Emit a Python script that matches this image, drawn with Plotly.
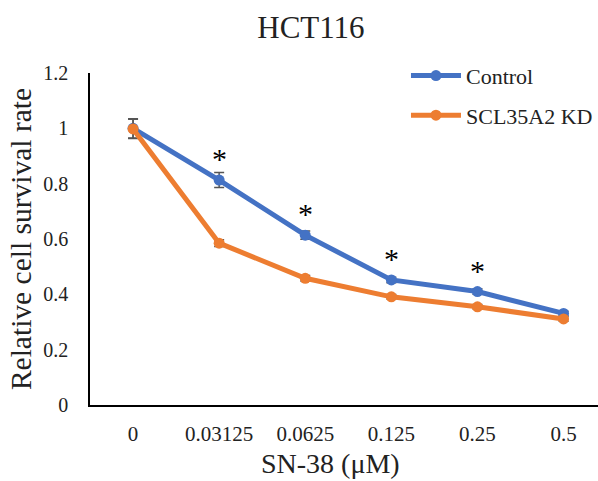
import plotly.graph_objects as go

# SN-38 concentrations (µM) used as categories
doses = ["0", "0.03125", "0.0625", "0.125", "0.25", "0.5"]

# Relative cell survival (mean) and error (SD)
control_mean = [1.00, 0.813, 0.614, 0.452, 0.410, 0.331]
control_err = [0.035, 0.027, 0.015, 0.010, 0.010, 0.008]
kd_mean = [0.998, 0.585, 0.458, 0.391, 0.355, 0.311]
kd_err = [0.035, 0.012, 0.010, 0.008, 0.008, 0.008]

# Doses marked as significant (asterisk over the Control point)
sig_doses = ["0.03125", "0.0625", "0.125", "0.25"]

FONT = "Liberation Serif"
BLUE = "#4472C4"
ORANGE = "#ED7D31"
TXT = "#222222"

fig = go.Figure()

fig.add_trace(go.Scatter(
    x=doses, y=control_mean, name="Control", legendgroup="ctrl",
    mode="lines+markers",
    line=dict(color=BLUE, width=5),
    marker=dict(color=BLUE, size=11),
    error_y=dict(type="data", array=control_err, visible=True,
                 color="#555555", thickness=1.5, width=5),
))
fig.add_trace(go.Scatter(
    x=doses, y=kd_mean, name="SCL35A2 KD", legendgroup="kd",
    mode="lines+markers",
    line=dict(color=ORANGE, width=5),
    marker=dict(color=ORANGE, size=11),
    error_y=dict(type="data", array=kd_err, visible=True,
                 color="#555555", thickness=1.5, width=5),
))

# significance markers, placed by category index above the Control point
for d in sig_doses:
    i = doses.index(d)
    fig.add_annotation(
        x=i, y=control_mean[i], text="*", showarrow=False,
        xref="x", yref="y", yanchor="bottom", yshift=3,
        font=dict(family=FONT, size=30, color="black"),
    )

# x-axis title
fig.add_annotation(
    text="SN-38 (μM)", x=0.474, y=-0.175, xref="paper", yref="paper",
    xanchor="center", yanchor="middle", showarrow=False,
    font=dict(family=FONT, size=28, color=TXT),
)

fig.update_layout(
    width=598, height=481,
    margin=dict(l=90, r=0, t=73, b=76),
    paper_bgcolor="white", plot_bgcolor="white",
    font=dict(family=FONT, color=TXT),
    title=dict(text="HCT116", x=0.52, xanchor="center", y=0.944, yanchor="middle",
               font=dict(family=FONT, size=31, color=TXT)),
    showlegend=True,
    legend=dict(x=0.622, y=1.055, xanchor="left", yanchor="top",
                font=dict(family=FONT, size=22, color=TXT),
                bgcolor="rgba(0,0,0,0)", tracegroupgap=8,
                itemwidth=50, traceorder="grouped"),
    xaxis=dict(
        type="category", range=[-0.5, 5.4],
        showline=True, linecolor="black", linewidth=1.5,
        showgrid=False, zeroline=False, ticks="",
        ticklabelstandoff=9,
        tickfont=dict(family=FONT, size=21, color=TXT),
    ),
    yaxis=dict(
        range=[0, 1.2], tickvals=[0, 0.2, 0.4, 0.6, 0.8, 1.0, 1.2],
        ticktext=["0", "0.2", "0.4", "0.6", "0.8", "1", "1.2"],
        showline=True, linecolor="black", linewidth=1.5,
        showgrid=False, zeroline=False, ticks="",
        ticklabelstandoff=16,
        tickfont=dict(family=FONT, size=20, color=TXT),
        title=dict(text="Relative cell survival rate", standoff=3,
                   font=dict(family=FONT, size=29.5, color=TXT)),
    ),
)

fig.write_html("out.html")
